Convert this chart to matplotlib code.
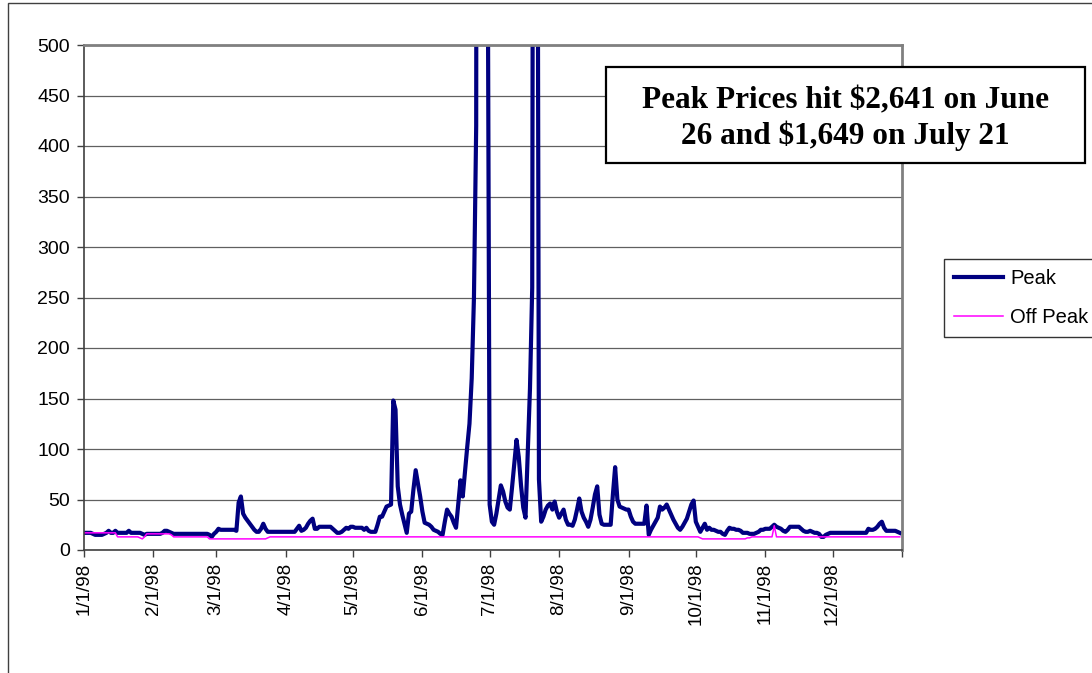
import numpy as np
import pandas as pd
import matplotlib
matplotlib.use("Agg")
import matplotlib.pyplot as plt
from matplotlib.patches import Rectangle

# Daily prices ($/MWh), 1998, one list per month
peak_jan = [17, 17, 17, 17, 16, 15, 15, 15, 15, 16, 17, 19, 17, 17, 19, 17, 17, 17, 17, 17,
            19, 17, 17, 17, 17, 17, 16, 15, 16, 16, 16]
peak_feb = [16, 16, 16, 16, 17, 19, 19, 18, 17, 16, 16, 16, 16, 16, 16, 16, 16, 16, 16, 16,
            16, 16, 16, 16, 16, 15, 13, 16]
peak_mar = [18, 21, 20, 20, 20, 20, 20, 20, 20, 19, 47, 53, 36, 32, 29, 26, 23, 20, 18, 18,
            21, 26, 21, 18, 18, 18, 18, 18, 18, 18, 18]
peak_apr = [18, 18, 18, 18, 18, 21, 24, 19, 20, 22, 26, 29, 31, 21, 21, 23, 23, 23, 23, 23,
            23, 21, 19, 17, 17, 18, 20, 22, 21, 23]
peak_may = [23, 22, 22, 22, 22, 20, 22, 19, 18, 18, 18, 25, 33, 33, 38, 43, 44, 45, 148, 139,
            63, 45, 35, 26, 17, 36, 38, 60, 79, 66, 53]
peak_jun = [38, 27, 26, 25, 23, 20, 19, 18, 16, 15, 28, 40, 36, 33, 27, 22, 45, 69, 53, 78,
            102, 125, 170, 250, 420, 2641, 1850, 1300, 950, 700]
peak_jul = [45, 28, 25, 36, 50, 64, 58, 48, 42, 40, 62, 86, 109, 92, 64, 42, 32, 95, 160, 260,
            1649, 1100, 70, 28, 33, 40, 44, 46, 40, 48, 38]
peak_aug = [32, 36, 40, 30, 25, 25, 24, 30, 40, 51, 38, 32, 28, 23, 30, 42, 55, 63, 35, 26,
            25, 25, 25, 25, 55, 82, 50, 43, 42, 41, 40]
peak_sep = [40, 33, 28, 26, 26, 26, 26, 26, 44, 15, 20, 24, 28, 32, 43, 40, 42, 45, 40, 35,
            30, 26, 22, 20, 23, 27, 31, 38, 45, 49]
peak_oct = [28, 23, 18, 22, 26, 20, 22, 20, 20, 19, 18, 18, 16, 15, 19, 22, 21, 21, 20, 20,
            19, 17, 17, 17, 16, 16, 16, 17, 18, 20, 20]
peak_nov = [21, 21, 21, 23, 25, 23, 22, 21, 19, 18, 20, 23, 23, 23, 23, 23, 21, 19, 18, 18,
            19, 18, 17, 17, 16, 13, 13, 15, 16, 17]
peak_dec = [17, 17, 17, 17, 17, 17, 17, 17, 17, 17, 17, 17, 17, 17, 17, 17, 21, 20, 20, 21,
            23, 26, 28, 22, 19, 19, 19, 19, 19, 18, 17]

off_jan = [17, 17, 17, 17, 17, 17, 17, 17, 17, 17, 17, 17, 17, 17, 17, 13, 13, 13, 13, 13,
           13, 13, 13, 13, 13, 12, 11, 13, 16, 16, 16]
off_feb = [16, 16, 16, 16, 16, 16, 16, 16, 15, 13, 13, 13, 13, 13, 13, 13, 13, 13, 13, 13,
           13, 13, 13, 13, 13, 11, 11, 11]
off_mar = [11, 11, 11, 11, 11, 11, 11, 11, 11, 11, 11, 11, 11, 11, 11, 11, 11, 11, 11, 11,
           11, 11, 11, 12, 13, 13, 13, 13, 13, 13, 13]
off_apr = [13] * 30
off_may = [13] * 31
off_jun = [13] * 30
off_jul = [13] * 31
off_aug = [13] * 31
off_sep = [13] * 30
off_oct = [13, 13, 12, 11, 11, 11, 11, 11, 11, 11, 11, 11, 11, 11, 11, 11, 11, 11, 11, 11,
           11, 11, 11, 12, 12, 13, 13, 13, 13, 13, 13]
off_nov = [13, 13, 13, 13, 24, 13, 13, 13, 13, 13, 13, 13, 13, 13, 13, 13, 13, 13, 13, 13,
           13, 13, 13, 13, 13, 13, 13, 13, 13, 13]
off_dec = [13] * 31

month_labels = ["1/1/98", "2/1/98", "3/1/98", "4/1/98", "5/1/98", "6/1/98",
                "7/1/98", "8/1/98", "9/1/98", "10/1/98", "11/1/98", "12/1/98"]
note_text = "Peak Prices hit $2,641 on June\n26 and $1,649 on July 21"

peak = (peak_jan + peak_feb + peak_mar + peak_apr + peak_may + peak_jun +
        peak_jul + peak_aug + peak_sep + peak_oct + peak_nov + peak_dec)
off_peak = (off_jan + off_feb + off_mar + off_apr + off_may + off_jun +
            off_jul + off_aug + off_sep + off_oct + off_nov + off_dec)
days = pd.date_range("1998-01-01", periods=len(peak), freq="D")
month_starts = pd.date_range("1998-01-01", periods=13, freq="MS")

plt.rcParams["font.family"] = "Liberation Sans"

W, H = 1092, 673
fig = plt.figure(figsize=(W / 100, H / 100), dpi=100)
ax = fig.add_axes([84 / W, 1 - 550 / H, (902 - 84) / W, (550 - 45) / H])

ax.plot(days, peak, color="#000080", lw=3.0, label="Peak", solid_joinstyle="round")
ax.plot(days, off_peak, color="#FF00FF", lw=1.1, label="Off Peak")

ax.set_xlim(month_starts[0], month_starts[-1])
ax.set_ylim(0, 500)
ax.set_yticks(np.arange(0, 501, 50))
ax.set_xticks(month_starts)
ax.set_xticklabels(month_labels + [""], rotation=90, fontsize=13.5)
ax.tick_params(axis="y", labelsize=14, length=5, width=1, color="#404040", pad=5)
ax.tick_params(axis="x", length=5, width=1, color="#404040", pad=4)

ax.grid(axis="y", color="#606060", lw=0.9)
ax.set_axisbelow(True)
for side in ["left", "bottom"]:
    ax.spines[side].set_color("#404040")
    ax.spines[side].set_linewidth(1.2)
for side in ["top", "right"]:
    ax.spines[side].set_color("#808080")
    ax.spines[side].set_linewidth(2)

# note box in the upper right of the plot area
fig.add_artist(Rectangle((606 / W, 1 - 163 / H), (1085 - 606) / W, (163 - 67) / H,
                         transform=fig.transFigure, fc="white", ec="black", lw=1.6, zorder=3))
fig.text(845 / W, 1 - 119 / H, note_text, ha="center", va="center",
         family="Liberation Serif", fontweight="bold", fontsize=22.5, linespacing=1.2,
         zorder=4)

leg = fig.legend(loc="upper left", bbox_to_anchor=(944 / W, 1 - 259 / H),
                 fontsize=14.5, frameon=True, fancybox=False, edgecolor="black",
                 handlelength=2.45, handletextpad=0.35, labelspacing=1.0, borderpad=0.5,
                 borderaxespad=0)
leg.get_frame().set_linewidth(1)

# outer chart border
fig.add_artist(Rectangle((7.5 / W, -0.05), 1.2, 1.05 - 3.5 / H, transform=fig.transFigure,
                         fill=False, edgecolor="#404040", lw=1))

fig.savefig("out.png", dpi=100)
